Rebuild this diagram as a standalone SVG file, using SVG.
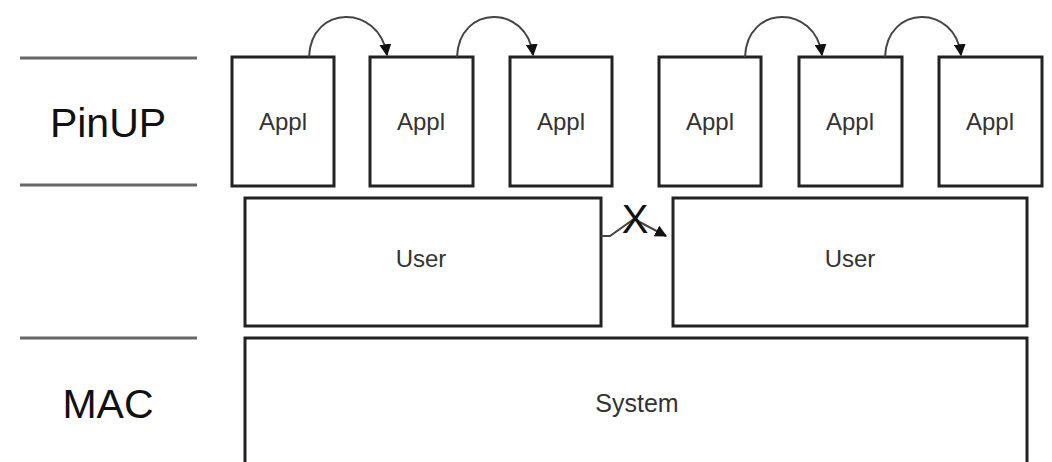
<svg xmlns="http://www.w3.org/2000/svg" width="1052" height="462" viewBox="0 0 1052 462">
<defs>
<marker id="ah" viewBox="0 0 10 10" refX="9" refY="5" markerWidth="6" markerHeight="6" orient="auto" markerUnits="strokeWidth">
<path d="M0,0 L10,5 L0,10 z" fill="#111"/>
</marker>
<style>
.box{fill:#fff;stroke:#222;stroke-width:3}
.sep{stroke:#666;stroke-width:3}
.lbl{font-family:"Liberation Sans",Arial,sans-serif;font-size:24px;fill:#333;text-anchor:middle}
.big{font-family:"Liberation Sans",Arial,sans-serif;font-size:41px;fill:#111;text-anchor:middle}
.con{fill:none;stroke:#444;stroke-width:2;marker-end:url(#ah)}
</style>
</defs>
<rect width="1052" height="462" fill="#fff"/>
<g id="layers">
<line class="sep" x1="20" y1="58" x2="197" y2="58"/>
<line class="sep" x1="20" y1="185" x2="197" y2="185"/>
<line class="sep" x1="20" y1="338" x2="197" y2="338"/>
<text class="big" x="108" y="137">PinUP</text>
<text class="big" x="108" y="418">MAC</text>
</g>
<g id="appl1"><rect class="box" x="232" y="57" width="102" height="129"/><text class="lbl" x="283" y="130">Appl</text></g>
<g id="appl2"><rect class="box" x="370" y="57" width="103" height="129"/><text class="lbl" x="421" y="130">Appl</text></g>
<g id="appl3"><rect class="box" x="510" y="57" width="102" height="129"/><text class="lbl" x="561" y="130">Appl</text></g>
<g id="appl4"><rect class="box" x="659" y="57" width="102" height="129"/><text class="lbl" x="710" y="130">Appl</text></g>
<g id="appl5"><rect class="box" x="799" y="57" width="103" height="129"/><text class="lbl" x="850" y="130">Appl</text></g>
<g id="appl6"><rect class="box" x="939" y="57" width="103" height="129"/><text class="lbl" x="990" y="130">Appl</text></g>
<g id="user1"><rect class="box" x="245" y="198" width="356" height="128"/><text class="lbl" x="421" y="267">User</text></g>
<g id="user2"><rect class="box" x="673" y="198" width="354" height="128"/><text class="lbl" x="850" y="267">User</text></g>
<g id="system"><rect class="box" x="245" y="338" width="782" height="140"/><text class="lbl" x="637" y="412" style="font-size:25px">System</text></g>
<g id="connectors">
<path class="con" d="M309,57 C311,4 379,4 387,55"/>
<path class="con" d="M457,57 C459,4 527,4 533,55"/>
<path class="con" d="M745,57 C747,4 815,4 822,55"/>
<path class="con" d="M885,57 C887,4 955,4 961,55"/>
<path class="con" d="M601,236 L610,236 L634,219 L666,236"/>
<text x="635" y="233" style="font-family:'Liberation Sans',Arial,sans-serif;font-size:40px;fill:#111;text-anchor:middle">X</text>
</g>
</svg>
